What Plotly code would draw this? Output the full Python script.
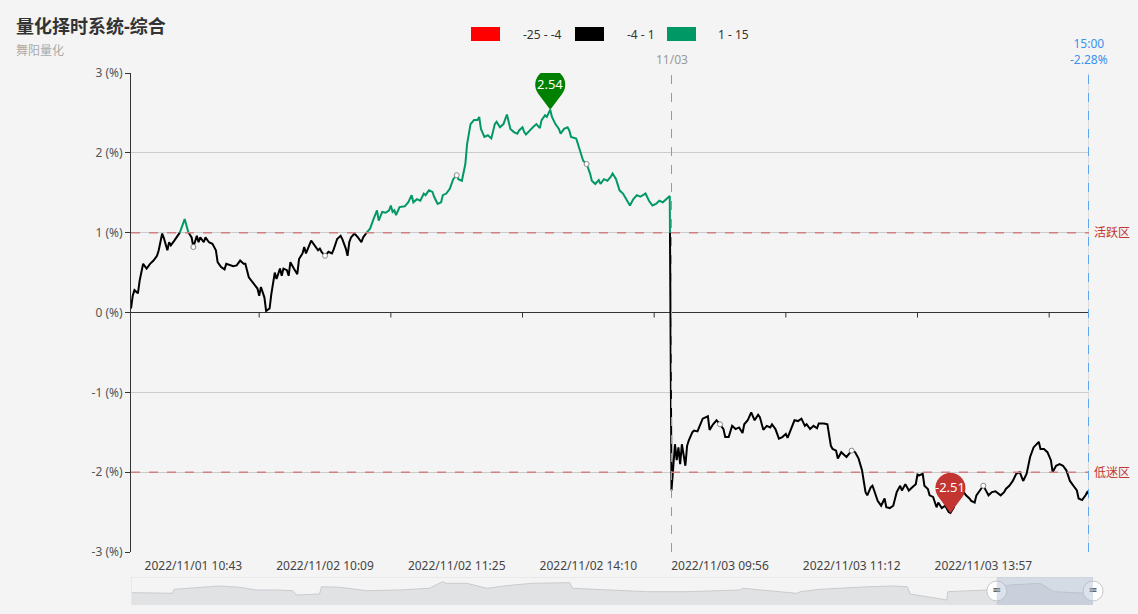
import math
import plotly.graph_objects as go

# ---------------- data ----------------
minute_idx = [
    0, 1, 2, 4, 5, 7, 9, 11, 13, 15, 16, 18, 19, 21, 22, 23, 25, 28, 31, 33, 35, 36, 38, 39, 40, 42, 43, 45, 47, 49,
    50, 52, 54, 55, 57, 59, 61, 63, 65, 66, 68, 71, 73, 74, 75, 77, 78, 80, 81, 83, 84, 86, 87, 88, 90, 91, 92, 94, 96, 97,
    99, 100, 101, 104, 106, 108, 109, 110, 112, 114, 116, 117, 119, 121, 122, 124, 125, 126, 127, 129, 131, 133, 134, 136, 138, 140, 142, 143, 145, 147,
    149, 150, 151, 152, 153, 155, 158, 160, 162, 163, 165, 167, 169, 170, 172, 174, 175, 177, 179, 180, 182, 184, 186, 188, 189, 191, 192, 193, 194, 196,
    198, 200, 201, 202, 204, 206, 208, 210, 211, 213, 215, 216, 217, 219, 221, 223, 224, 226, 227, 228, 230, 232, 234, 236, 237, 239, 240, 242, 243, 245,
    247, 248, 250, 252, 253, 254, 257, 259, 261, 263, 265, 266, 268, 270, 271, 273, 275, 277, 278, 280, 282, 284, 286, 288, 290, 292, 294, 297, 299, 301,
    303, 305, 307, 310, 311, 312, 314, 315, 316, 317, 318, 319, 320, 321, 322, 324, 325, 327, 328, 330, 333, 334, 336, 338, 340, 342, 343, 345, 347, 349,
    351, 353, 354, 356, 358, 360, 362, 363, 365, 367, 369, 370, 372, 374, 376, 378, 379, 381, 383, 385, 387, 389, 390, 392, 394, 396, 397, 400, 402, 404,
    405, 407, 408, 410, 411, 413, 416, 418, 420, 422, 424, 425, 427, 428, 429, 431, 433, 435, 436, 438, 440, 442, 444, 445, 447, 449, 451, 453, 454, 455,
    457, 458, 460, 461, 463, 465, 466, 468, 470, 472, 473, 475, 477, 479, 480, 482, 484, 485, 487, 488, 490, 492, 494, 495, 497, 499, 502, 504, 505, 507,
    509, 511, 513, 514, 515, 517, 519, 521, 523, 524, 525, 527, 529, 531, 532, 534, 536, 538, 540, 542, 544, 546, 547, 549, 551, 552, 553,
]
pct = [
    0.05, 0.21, 0.28, 0.24, 0.40, 0.61, 0.55, 0.61, 0.65, 0.71, 0.78, 0.99, 0.93, 0.78, 0.88, 0.84, 0.90, 0.99, 1.17, 1.01, 0.94, 0.82, 0.96, 0.88, 0.94, 0.88, 0.94, 0.88, 0.86, 0.78,
    0.63, 0.57, 0.54, 0.61, 0.59, 0.58, 0.59, 0.65, 0.61, 0.61, 0.44, 0.36, 0.30, 0.21, 0.32, 0.19, 0.02, 0.05, 0.23, 0.50, 0.42, 0.55, 0.46, 0.55, 0.53, 0.46, 0.63, 0.55, 0.48, 0.67,
    0.74, 0.82, 0.74, 0.90, 0.84, 0.78, 0.80, 0.76, 0.71, 0.76, 0.74, 0.79, 0.92, 0.96, 0.92, 0.80, 0.71, 0.88, 0.94, 0.99, 0.94, 0.88, 0.94, 1.00, 1.05, 1.17, 1.28, 1.15, 1.26, 1.25,
    1.28, 1.34, 1.26, 1.28, 1.22, 1.32, 1.33, 1.38, 1.47, 1.38, 1.42, 1.40, 1.49, 1.47, 1.53, 1.51, 1.45, 1.36, 1.38, 1.47, 1.49, 1.55, 1.67, 1.72, 1.67, 1.65, 1.74, 1.86, 2.11, 2.36,
    2.41, 2.41, 2.45, 2.30, 2.20, 2.22, 2.18, 2.36, 2.39, 2.32, 2.36, 2.41, 2.48, 2.30, 2.26, 2.24, 2.28, 2.32, 2.26, 2.23, 2.28, 2.32, 2.36, 2.31, 2.41, 2.47, 2.45, 2.54, 2.45, 2.36,
    2.30, 2.24, 2.30, 2.32, 2.28, 2.20, 2.18, 2.03, 1.90, 1.86, 1.74, 1.65, 1.61, 1.66, 1.61, 1.67, 1.65, 1.70, 1.74, 1.67, 1.53, 1.49, 1.42, 1.34, 1.42, 1.47, 1.45, 1.49, 1.40, 1.34,
    1.36, 1.40, 1.38, 1.44, 1.46, -2.23, -1.65, -1.85, -1.69, -1.90, -1.65, -1.81, -1.92, -1.67, -1.60, -1.50, -1.48, -1.49, -1.44, -1.33, -1.30, -1.47, -1.40, -1.35, -1.40, -1.46, -1.56, -1.56, -1.42, -1.46,
    -1.44, -1.51, -1.40, -1.35, -1.25, -1.35, -1.28, -1.31, -1.47, -1.42, -1.44, -1.40, -1.46, -1.58, -1.56, -1.52, -1.57, -1.46, -1.35, -1.36, -1.33, -1.42, -1.40, -1.46, -1.42, -1.45, -1.39, -1.39, -1.40, -1.67,
    -1.71, -1.73, -1.83, -1.75, -1.77, -1.81, -1.73, -1.75, -1.83, -1.98, -2.25, -2.29, -2.19, -2.17, -2.23, -2.36, -2.42, -2.33, -2.44, -2.45, -2.42, -2.25, -2.17, -2.23, -2.15, -2.23, -2.19, -2.15, -2.03, -2.04,
    -2.02, -2.17, -2.21, -2.29, -2.31, -2.44, -2.38, -2.45, -2.42, -2.50, -2.51, -2.44, -2.25, -2.21, -2.23, -2.29, -2.33, -2.36, -2.38, -2.29, -2.23, -2.17, -2.25, -2.29, -2.25, -2.24, -2.29, -2.25, -2.21, -2.17,
    -2.11, -2.02, -2.00, -2.06, -2.11, -2.02, -1.81, -1.69, -1.64, -1.62, -1.71, -1.71, -1.75, -1.85, -2.00, -1.92, -1.90, -1.92, -1.98, -2.11, -2.17, -2.23, -2.33, -2.35, -2.29, -2.25, -2.28,
]

x_tick_labels = ["2022/11/01 10:43", "2022/11/02 10:09", "2022/11/02 11:25", "2022/11/02 14:10",
                 "2022/11/03 09:56", "2022/11/03 11:12", "2022/11/03 13:57"]
label_first, label_every = 36, 76      # category index of first label, label interval
day3_start_idx = 312                   # 2022/11/03 09:30
day3_label = "11/03"
last_time = "15:00"
n_points = 554

y_ticks = [-3, -2, -1, 0, 1, 2, 3]
active_level, weak_level = 1, -2
pieces = [(-25, -4, "#ff0000"), (-4, 1, "#000000"), (1, 15, "#009966")]

# overview series of the data-zoom slider (position in %, height)
overview_pos = [0.1, 4.3, 4.5, 7.1, 9.2, 11.3, 13.0, 15.1, 16.8, 17.2, 19.6, 19.8, 21.7, 24.5, 27.9, 31.0, 32.4, 32.8,
                34.9, 37.0, 39.0, 41.7, 45.6, 45.9, 50.8, 53.6, 57.8, 63.3, 63.6, 69.2, 69.6, 71.6, 76.8, 79.2, 80.7,
                81.0, 84.8, 84.9, 89.0, 91.4, 94.5, 95.9, 99.4, 100.0]
overview_val = [12.3, 11.7, 15.7, 17.7, 19.0, 17.7, 15.0, 15.0, 14.3, 10.0, 11.0, 18.3, 17.7, 14.3, 15.0, 16.7, 23.3, 21.7,
                21.7, 16.7, 19.3, 21.7, 22.3, 16.7, 15.0, 13.3, 13.3, 15.0, 16.7, 11.7, 13.3, 15.7, 18.3, 19.0, 18.3,
                11.0, 5.0, 13.3, 15.0, 20.0, 21.7, 13.3, 11.7, 11.7]
zoom_start, zoom_end = 90, 100

# ---------------- layout helpers ----------------
W, H = 1138, 614
ML, MR, MT, MB = 131, 45, 73, 9
PW, PH = W - ML - MR, H - MT - MB
def px(x): return (x - ML) / PW
def py(y): return (H - MB - y) / PH

FONT = "Noto Sans, Noto Sans CJK SC, sans-serif"

fig = go.Figure()

# ---------------- colour-segmented line ----------------
bounds = [-4, 1]
def cls(v):
    if v < -4: return 0
    if v < 1: return 1
    return 2

segments = []
cx, cy, cc = [minute_idx[0]], [pct[0]], cls(pct[0])
for i in range(1, len(pct)):
    x0, y0, x1, y1 = minute_idx[i-1], pct[i-1], minute_idx[i], pct[i]
    c1 = cls(y1)
    while cc != c1:
        if c1 > cc:
            b, nc = bounds[cc], cc + 1
        else:
            b, nc = bounds[cc - 1], cc - 1
        t = (b - y0) / (y1 - y0)
        xb = x0 + t * (x1 - x0)
        cx.append(xb); cy.append(b)
        segments.append((cc, cx, cy))
        cx, cy, cc = [xb], [b], nc
    cx.append(x1); cy.append(y1)
segments.append((cc, cx, cy))

for c, sx, sy in segments:
    fig.add_trace(go.Scatter(x=sx, y=sy, mode="lines", line=dict(color=pieces[c][2], width=2),
                             hoverinfo="skip", showlegend=False, xaxis="x", yaxis="y"))

# hollow symbols at label positions
sym_x, sym_y = [], []
for k in range(len(x_tick_labels)):
    target = label_first + k * label_every
    j = min(range(len(minute_idx)), key=lambda q: abs(minute_idx[q] - target))
    sym_x.append(minute_idx[j]); sym_y.append(pct[j])
fig.add_trace(go.Scatter(x=sym_x, y=sym_y, mode="markers",
                         marker=dict(symbol="circle", size=5, color="white", line=dict(color="#888", width=1)),
                         hoverinfo="skip", showlegend=False, xaxis="x", yaxis="y"))

# ---------------- data zoom slider ----------------
fig.add_trace(go.Scatter(x=overview_pos, y=overview_val, mode="lines", fill="tozeroy",
                         fillcolor="#e1e2e4", line=dict(color="#c9cbcf", width=1),
                         hoverinfo="skip", showlegend=False, xaxis="x2", yaxis="y2"))
fig.add_trace(go.Scatter(x=[zoom_start, zoom_end], y=[14, 14], mode="markers",
                         marker=dict(symbol="circle", size=20, color="white", line=dict(color="#c8c8c8", width=1)),
                         cliponaxis=False, hoverinfo="skip", showlegend=False, xaxis="x2", yaxis="y2"))
fig.add_trace(go.Scatter(x=[zoom_start, zoom_end], y=[14, 14], mode="text", text=["<b>=</b>", "<b>=</b>"],
                         textposition="middle center", textfont=dict(color="#666", size=14, family=FONT),
                         cliponaxis=False, hoverinfo="skip", showlegend=False, xaxis="x2", yaxis="y2"))

shapes = []
annotations = []
last_idx = n_points - 1

# marklines
for lvl, name in [(active_level, "活跃区"), (weak_level, "低迷区")]:
    shapes.append(dict(type="line", xref="x", yref="y", x0=0, x1=last_idx, y0=lvl, y1=lvl,
                       line=dict(color="#d08080", width=1.5, dash="dash")))
    annotations.append(dict(x=last_idx, y=lvl, xref="x", yref="y", text=name, showarrow=False,
                            xanchor="left", xshift=3, font=dict(color="#c23531", size=12, family=FONT)))
shapes.append(dict(type="line", xref="x", yref="y", x0=last_idx, x1=last_idx, y0=-3, y1=3,
                   line=dict(color="#dcdcdc", width=2), layer="below"))
shapes.append(dict(type="line", xref="x", yref="y", x0=day3_start_idx, x1=day3_start_idx, y0=-3, y1=3,
                   line=dict(color="#999", width=1, dash="dash")))
shapes.append(dict(type="line", xref="x", yref="y", x0=last_idx, x1=last_idx, y0=-3, y1=3,
                   line=dict(color="#5ea6ef", width=2, dash="dash")))
annotations.append(dict(x=day3_start_idx, y=3, xref="x", yref="y", text=day3_label, showarrow=False,
                        yanchor="bottom", yshift=3, font=dict(color="#999", size=12, family=FONT)))
annotations.append(dict(x=last_idx, y=3, xref="x", yref="y", text=f"{last_time}<br>{pct[-1]:.2f}%",
                        showarrow=False, yanchor="bottom", yshift=3,
                        font=dict(color="#3a92ee", size=12, family=FONT)))

# small ticks on the zero axis line
for k in range(len(x_tick_labels)):
    xt = label_first + label_every // 2 + k * label_every
    shapes.append(dict(type="line", xref="x", yref="y", xsizemode="scaled", ysizemode="pixel",
                       yanchor=0, x0=xt, x1=xt, y0=0, y1=-5, line=dict(color="#333", width=1)))

# pins for max / min
def pin_path(r=15, h=25):
    a = math.degrees(math.acos(r / h))
    start = -90 + a
    end = 270 - a
    pts = ["M0,0"]
    n = 30
    for s in range(n + 1):
        ang = math.radians(start + (end - start) * s / n)
        pts.append(f"L{r*math.cos(ang):.2f},{h + r*math.sin(ang):.2f}")
    pts.append("Z")
    return " ".join(pts)

imax = max(range(len(pct)), key=lambda q: pct[q])
imin = min(range(len(pct)), key=lambda q: pct[q])
for i, col in [(imax, "#008000"), (imin, "#c23531")]:
    shapes.append(dict(type="path", xref="x", yref="y", xsizemode="pixel", ysizemode="pixel",
                       xanchor=minute_idx[i], yanchor=pct[i], path=pin_path(),
                       fillcolor=col, line=dict(width=0)))
    annotations.append(dict(x=minute_idx[i], y=pct[i], xref="x", yref="y", text=f"{pct[i]:.2f}",
                            showarrow=False, yshift=26, font=dict(color="white", size=13, family=FONT)))

# slider frame + selected window
shapes.append(dict(type="rect", xref="x2", yref="y2", x0=0, x1=100, y0=0, y1=28,
                   line=dict(color="#dddddd", width=1), layer="below"))
shapes.append(dict(type="rect", xref="x2", yref="y2", x0=zoom_start, x1=zoom_end, y0=0, y1=28,
                   fillcolor="rgba(167,183,204,0.4)", line=dict(width=0)))

# visualMap legend
leg_rects = [471, 575, 667]
leg_texts = [521, 625, 716]
for (lo, hi, col), rx, tx in zip(pieces, leg_rects, leg_texts):
    shapes.append(dict(type="rect", xref="paper", yref="paper", x0=px(rx), x1=px(rx + 29),
                       y0=py(41), y1=py(27), fillcolor=col, line=dict(width=0)))
    annotations.append(dict(x=px(tx), y=py(34), xref="paper", yref="paper", text=f"{lo} - {hi}",
                            showarrow=False, xanchor="left", yanchor="middle",
                            font=dict(color="#333", size=12, family=FONT)))

# titles
annotations.append(dict(x=px(14), y=py(26), xref="paper", yref="paper", text="<b>量化择时系统-综合</b>",
                        showarrow=False, xanchor="left", yanchor="middle",
                        font=dict(color="#333", size=18, family=FONT)))
annotations.append(dict(x=px(14), y=py(50), xref="paper", yref="paper", text="舞阳量化",
                        showarrow=False, xanchor="left", yanchor="middle",
                        font=dict(color="#aaa", size=12, family=FONT)))

fig.update_layout(
    width=W, height=H,
    margin=dict(l=ML, r=MR, t=MT, b=MB, autoexpand=False),
    paper_bgcolor="#f4f4f4", plot_bgcolor="#f4f4f4",
    font=dict(family=FONT, size=12, color="#555"),
    showlegend=False,
    xaxis=dict(domain=[0, px(1089)], range=[0, last_idx], showgrid=False, zeroline=False, showline=False,
               tickmode="array", tickvals=[label_first + k * label_every for k in range(len(x_tick_labels))],
               ticktext=x_tick_labels, ticks="", tickfont=dict(size=12, color="#444"), anchor="y",
               automargin=False, ticklabelstandoff=5),
    yaxis=dict(domain=[py(552), 1], range=[-3, 3], tickmode="array", tickvals=y_ticks,
               ticktext=[f"{v} (%)" for v in y_ticks], showgrid=True, gridcolor="#cccccc", gridwidth=1,
               zeroline=True, zerolinecolor="#333", zerolinewidth=1,
               showline=True, linecolor="#333", linewidth=1, ticks="outside", ticklen=5, tickcolor="#333",
               tickfont=dict(size=12, color="#555"), anchor="x", automargin=False),
    xaxis2=dict(domain=[0, 1], range=[0, 100], visible=False, anchor="y2"),
    yaxis2=dict(domain=[0, py(577)], range=[0, 28], visible=False, anchor="x2"),
    shapes=shapes, annotations=annotations,
)

fig.write_html("out.html", config={"displayModeBar": False},
               post_script="document.body.style.margin='0px';")
